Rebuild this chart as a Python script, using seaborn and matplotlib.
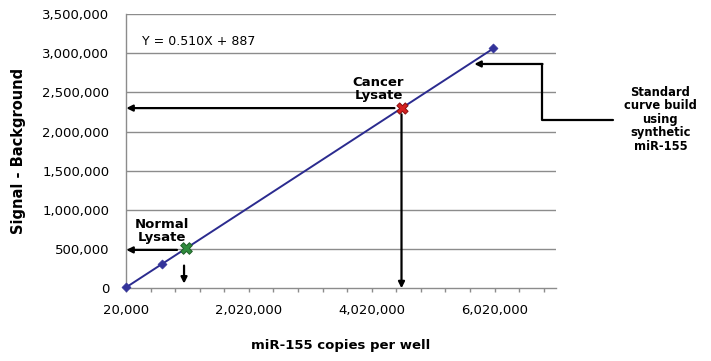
import numpy as np
import pandas as pd
import seaborn as sns
import matplotlib.pyplot as plt

# Standard curve points (synthetic miR-155)
std_copies = [20000, 600000, 6000000]
std_signal = [11000, 306000, 3061000]

# Fitted line endpoints (Y = 0.510X + 887)
fit_copies = [20000, 6000000]
fit_signal = [11087, 3060887]

# Samples
normal_copies, normal_signal = 990000, 510000
cancer_copies, cancer_signal = 4505000, 2300000

xtick_vals = [20000, 2020000, 4020000, 6020000]
ytick_vals = [0, 500000, 1000000, 1500000, 2000000, 2500000, 3000000, 3500000]

sns.set_theme(style="white")
plt.rcParams['font.family'] = ['DejaVu Sans']
plt.rcParams['text.color'] = 'black'
plt.rcParams['axes.labelcolor'] = 'black'
plt.rcParams['xtick.labelcolor'] = 'black'
plt.rcParams['ytick.labelcolor'] = 'black'

fig = plt.figure(figsize=(7.11, 3.61), dpi=100)
ax = fig.add_axes([0.1772, 0.2014, 0.6048, 0.7596])

ax.set_xlim(20000, 7020000)
ax.set_ylim(0, 3500000)

# gridlines
for yv in ytick_vals[1:]:
    ax.axhline(yv, color='#8c8c8c', lw=1, zorder=0)

line_df = pd.DataFrame({'x': fit_copies, 'y': fit_signal})
sns.lineplot(data=line_df, x='x', y='y', color='#2b2b8f', lw=1.4, ax=ax, zorder=3)

std_df = pd.DataFrame({'x': std_copies, 'y': std_signal})
sns.scatterplot(data=std_df, x='x', y='y', marker='D', s=22, color='#33339a',
                edgecolor='#33339a', ax=ax, zorder=4, clip_on=False)

sns.scatterplot(x=[normal_copies], y=[normal_signal], marker='X', s=70,
                color='#2e8b3c', edgecolor='#1f5f28', linewidth=0.7, ax=ax, zorder=5)
sns.scatterplot(x=[cancer_copies], y=[cancer_signal], marker='X', s=65,
                color='#d42020', edgecolor='#8a1010', linewidth=0.7, ax=ax, zorder=5)

arrow = dict(arrowstyle='-|>', color='black', lw=1.6, mutation_scale=9, shrinkA=0, shrinkB=0)

# cancer arrows
ax.annotate('', xy=(25000, 2300000), xytext=(4390000, 2300000), arrowprops=arrow, zorder=6)
ax.annotate('', xy=(4505000, 0), xytext=(4505000, 2220000), arrowprops=arrow, zorder=6)
# normal arrows
ax.annotate('', xy=(25000, 490000), xytext=(850000, 490000), arrowprops=arrow, zorder=6)
ax.annotate('', xy=(965000, 60000), xytext=(965000, 290000), arrowprops=arrow, zorder=6)
# standard curve callout
ax.plot([7940000, 6800000, 6800000], [2145000, 2145000, 2863000], color='black',
        lw=1.6, clip_on=False, zorder=6)
ax.annotate('', xy=(5690000, 2863000), xytext=(6800000, 2863000), arrowprops=arrow,
            annotation_clip=False, zorder=6)

ax.text(4130000, 2545000, 'Cancer\nLysate', ha='center', va='center', fontsize=9.5,
        fontweight='bold', linespacing=1.0)
ax.text(600000, 735000, 'Normal\nLysate', ha='center', va='center', fontsize=9.5,
        fontweight='bold', linespacing=1.0)
ax.text(280000, 3145000, 'Y = 0.510X + 887', ha='left', va='center', fontsize=9)
ax.text(8720000, 2158000, 'Standard\ncurve build\nusing\nsynthetic\nmiR-155', ha='center',
        va='center', fontsize=8.3, fontweight='bold', linespacing=1.05, clip_on=False)

ax.set_xticks(xtick_vals)
ax.set_xticklabels([f'{v:,}' for v in xtick_vals], fontsize=9.5)
ax.set_xticks(np.arange(20000, 7020001, 400000), minor=True)
ax.set_yticks(ytick_vals)
ax.set_yticklabels([f'{v:,}' for v in ytick_vals], fontsize=9.5)
ax.tick_params(axis='x', which='both', bottom=True, direction='out', length=3,
               width=1, color='#8c8c8c', pad=8)
ax.tick_params(axis='y', left=False, pad=6)

for s in ['top', 'right']:
    ax.spines[s].set_visible(False)
for s in ['left', 'bottom']:
    ax.spines[s].set_color('#8c8c8c')
    ax.spines[s].set_linewidth(1)

ax.set_xlabel('miR-155 copies per well', fontsize=9.5, fontweight='bold', labelpad=16)
ax.set_ylabel('Signal - Background', fontsize=10.5, fontweight='bold', labelpad=12)

fig.savefig('out.png', dpi=100)
